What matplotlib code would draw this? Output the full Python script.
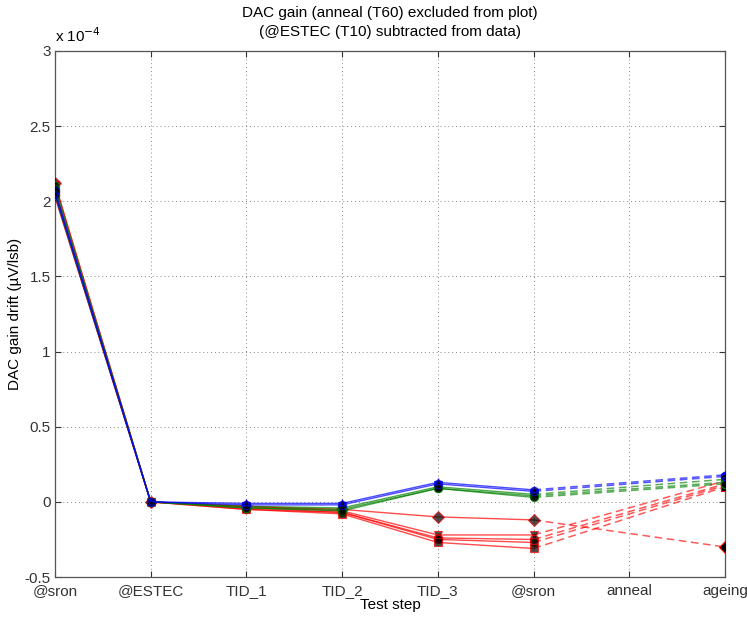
import numpy as np
import matplotlib
matplotlib.use("Agg")
import matplotlib.pyplot as plt

plt.rcParams['font.family'] = ['Liberation Sans', 'DejaVu Sans']

steps = ["@sron", "@ESTEC", "TID_1", "TID_2", "TID_3", "@sron", "anneal", "ageing"]
nan = np.nan

# DAC gain drift per device, in units of 1e-4 uV/lsb (@ESTEC subtracted, anneal excluded)
blue_a = [2.05, 0.0, -0.01, -0.01, 0.13, 0.08, nan, 0.18]
blue_b = [2.07, 0.0, -0.02, -0.02, 0.12, 0.07, nan, 0.17]
green_a = [2.10, 0.0, -0.03, -0.04, 0.10, 0.05, nan, 0.15]
green_b = [2.08, 0.0, -0.04, -0.05, 0.09, 0.04, nan, 0.13]
green_c = [2.04, 0.0, -0.04, -0.06, 0.09, 0.03, nan, 0.12]
red_a = [2.12, 0.0, -0.03, -0.05, -0.10, -0.12, nan, -0.30]
red_b = [2.11, 0.0, -0.03, -0.06, -0.22, -0.22, nan, 0.14]
red_c = [2.06, 0.0, -0.04, -0.07, -0.24, -0.25, nan, 0.12]
red_d = [2.04, 0.0, -0.05, -0.07, -0.25, -0.27, nan, 0.11]
red_e = [2.03, 0.0, -0.05, -0.08, -0.27, -0.31, nan, 0.10]

series = [
    (red_a, "red", "D"),
    (red_b, "red", "v"),
    (red_c, "red", "o"),
    (red_d, "red", "o"),
    (red_e, "red", "s"),
    (green_a, "green", "o"),
    (green_b, "green", "o"),
    (green_c, "green", "o"),
    (blue_b, "blue", "o"),
    (blue_a, "blue", "*"),
]

fs = 11
fig = plt.figure(figsize=(7.47, 6.18), dpi=100)
ax = fig.add_axes([0.0736, 0.0663, 0.8969, 0.8512])

x = np.arange(len(steps))
solid_idx = np.arange(0, 6)
for vals, col, mk in series:
    v = np.array(vals)
    ax.plot(x[solid_idx], v[solid_idx], color=col, lw=1.0, alpha=0.7,
            marker=mk, ms=6, mfc="black", mec=col, mew=0.8, zorder=3)
    ax.plot([x[5], x[7]], [v[5], v[7]], color=col, lw=1.1, alpha=0.65,
            ls=(0, (5, 3)), zorder=2)
    ax.plot([x[7]], [v[7]], ls="none", marker=mk, ms=6, mfc="black",
            mec=col, mew=0.8, zorder=3)

ax.set_xlim(0, 7)
ax.set_ylim(-0.5, 3.0)
ax.set_xticks(x)
ax.set_xticklabels(steps, fontsize=fs)
ax.set_yticks(np.arange(-0.5, 3.01, 0.5))
ax.set_yticklabels(["-0.5", "0", "0.5", "1", "1.5", "2", "2.5", "3"], fontsize=fs)
ax.tick_params(direction="in", length=4, top=True, right=True, width=0.8,
               colors="#333333")
ax.tick_params(axis="x", pad=5)
ax.tick_params(axis="y", pad=3)
ax.grid(True, ls=(0, (1, 3)), color="#888888", lw=0.7)
for s in ax.spines.values():
    s.set_color("#555555")
    s.set_linewidth(0.9)

ax.text(0.0, 3.04, r"x 10$^{-4}$", fontsize=fs, ha="left", va="bottom")
ax.set_title("DAC gain (anneal (T60) excluded from plot)\n(@ESTEC (T10) subtracted from data)",
             fontsize=fs, pad=11, linespacing=1.45)
ax.set_xlabel("Test step", fontsize=fs, labelpad=0)
ax.set_ylabel("DAC gain drift (\u00b5V/lsb)", fontsize=fs, labelpad=2)

fig.savefig("out.png", dpi=100)
